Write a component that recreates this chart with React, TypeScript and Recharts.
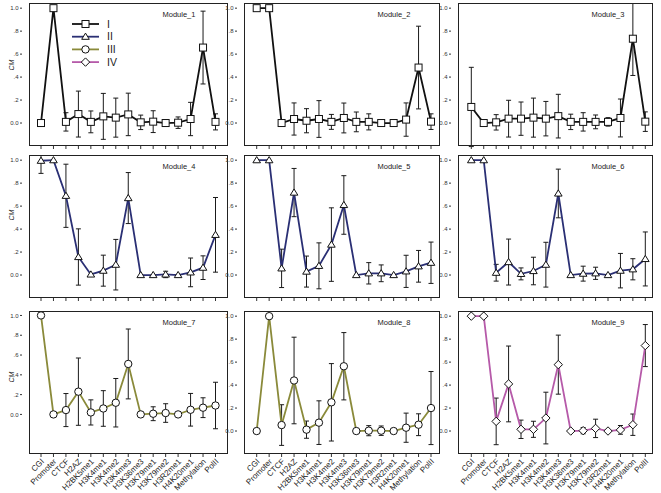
import { LineChart, Line, XAxis, YAxis, ErrorBar } from 'recharts'

const CATEGORIES = ['CGI', 'Promoter', 'CTCF', 'H2AZ', 'H2BK5me1', 'H3K4me1', 'H3K4me2', 'H3K4me3', 'H3K36me3', 'H3K79me1', 'H3K79me2', 'H3R2me1', 'H4K20me1', 'Methylation', 'PolII']
const Y_TICKS = [0, 0.2, 0.4, 0.6, 0.8, 1.0]

const M1_VALUES = [0, 1.0, 0.01, 0.078, 0.01, 0.058, 0.047, 0.075, 0.006, 0.012, 0.0, 0.003, 0.035, 0.657, 0.01]
const M1_ERRORS = [0, 0, 0.08, 0.2, 0.095, 0.2, 0.17, 0.185, 0.063, 0.095, 0, 0.05, 0.145, 0.317, 0.07]
const M2_VALUES = [1.0, 1.0, 0, 0.035, 0.02, 0.035, 0.01, 0.044, 0.01, 0.01, 0, 0, 0.03, 0.483, 0.012]
const M2_ERRORS = [0, 0, 0, 0.14, 0.105, 0.16, 0.065, 0.13, 0.086, 0.07, 0, 0, 0.145, 0.36, 0.068]
const M3_VALUES = [0.14, 0, 0.006, 0.038, 0.038, 0.047, 0.038, 0.06, 0.01, 0.01, 0.01, 0.01, 0.044, 0.734, 0.012]
const M3_ERRORS = [0.345, 0, 0.067, 0.16, 0.145, 0.17, 0.15, 0.19, 0.067, 0.08, 0.06, 0.037, 0.165, 0.32, 0.085]
const M4_VALUES = [0.995, 1.0, 0.69, 0.157, 0.005, 0.038, 0.09, 0.67, 0, 0, 0.005, 0, 0.023, 0.064, 0.35]
const M4_ERRORS = [0.11, 0, 0.275, 0.245, 0, 0.135, 0.22, 0.222, 0, 0, 0.028, 0, 0.125, 0.103, 0.325]
const M5_VALUES = [1.0, 1.0, 0.058, 0.718, 0.03, 0.08, 0.265, 0.61, 0, 0.015, 0.015, 0, 0.032, 0.076, 0.107]
const M5_ERRORS = [0, 0, 0.167, 0.21, 0.135, 0.2, 0.32, 0.255, 0, 0.093, 0.073, 0, 0.14, 0.138, 0.18]
const M6_VALUES = [1.0, 1.0, 0.02, 0.113, 0.01, 0.035, 0.09, 0.71, 0, 0.012, 0.015, 0, 0.038, 0.05, 0.14]
const M6_ERRORS = [0, 0, 0.073, 0.2, 0.052, 0.12, 0.195, 0.212, 0, 0.065, 0.053, 0, 0.15, 0.092, 0.235]
const M7_VALUES = [1.0, 0, 0.044, 0.23, 0.02, 0.06, 0.118, 0.51, 0, 0.007, 0.014, 0, 0.047, 0.068, 0.09]
const M7_ERRORS = [0, 0, 0.167, 0.34, 0.127, 0.18, 0.245, 0.353, 0, 0.07, 0.094, 0, 0.165, 0.1, 0.235]
const M8_VALUES = [0, 1.0, 0.052, 0.44, 0.012, 0.073, 0.25, 0.564, 0, 0.003, 0.003, 0, 0.029, 0.055, 0.2]
const M8_ERRORS = [0, 0, 0.177, 0.377, 0.075, 0.19, 0.337, 0.293, 0, 0.044, 0.041, 0, 0.127, 0.095, 0.318]
const M9_VALUES = [1.0, 1.0, 0.084, 0.41, 0.015, 0.015, 0.113, 0.578, 0, 0.003, 0.023, 0, 0.01, 0.055, 0.744]
const M9_ERRORS = [0, 0, 0.203, 0.33, 0.08, 0.07, 0.225, 0.257, 0, 0.027, 0.08, 0, 0.038, 0.093, 0.183]

const SERIES = [
  { name: 'I', color: '#111111', shape: 'square' },
  { name: 'II', color: '#2a2f74', shape: 'triangle' },
  { name: 'III', color: '#8a8a3a', shape: 'circle' },
  { name: 'IV', color: '#b65aa9', shape: 'diamond' },
]

const MODULES = [
  { title: 'Module_1', series: 0, values: M1_VALUES, errors: M1_ERRORS },
  { title: 'Module_2', series: 0, values: M2_VALUES, errors: M2_ERRORS },
  { title: 'Module_3', series: 0, values: M3_VALUES, errors: M3_ERRORS },
  { title: 'Module_4', series: 1, values: M4_VALUES, errors: M4_ERRORS },
  { title: 'Module_5', series: 1, values: M5_VALUES, errors: M5_ERRORS },
  { title: 'Module_6', series: 1, values: M6_VALUES, errors: M6_ERRORS },
  { title: 'Module_7', series: 2, values: M7_VALUES, errors: M7_ERRORS },
  { title: 'Module_8', series: 2, values: M8_VALUES, errors: M8_ERRORS },
  { title: 'Module_9', series: 3, values: M9_VALUES, errors: M9_ERRORS },
]

const COLS = [
  { left: 29, width: 199, pad: { left: 12, right: 12.5 } },
  { left: 244, width: 196, pad: { left: 12.7, right: 9 } },
  { left: 458, width: 195, pad: { left: 13.3, right: 7.7 } },
]
const ROWS = [3, 155, 311]
const BOX_H = 143
const Y_W = 29
const FONT = '"Liberation Sans", Arial, sans-serif'

const fmtY = (v: number) => (v === 0 ? '0.0' : v === 1 ? '1.0' : '.' + Math.round(v * 10))

function Marker({ shape, cx, cy }: any) {
  const st = { fill: '#fff', stroke: '#111', strokeWidth: 1 }
  if (shape === 'square') return <rect x={cx - 3.5} y={cy - 3.5} width={7} height={7} {...st} />
  if (shape === 'triangle') return <polygon points={`${cx},${cy - 3.6} ${cx - 3.8},${cy + 2.6} ${cx + 3.8},${cy + 2.6}`} {...st} />
  if (shape === 'circle') return <circle cx={cx} cy={cy} r={3.7} {...st} />
  return <polygon points={`${cx},${cy - 4.2} ${cx + 4.2},${cy} ${cx},${cy + 4.2} ${cx - 4.2},${cy}`} {...st} />
}

const makeDot = (shape: string) => (p: any) => <Marker key={`m-${p.index}`} shape={shape} cx={p.cx} cy={p.cy} />

function YTick({ x, y, payload }: any) {
  return (
    <g>
      <line x1={x - 9} x2={x - 7} y1={y} y2={y} stroke="#333" />
      <text x={x - 10.5} y={y} dy="0.35em" textAnchor="end" fontSize={6} fill="#333" fontFamily={FONT}>
        {fmtY(payload.value)}
      </text>
    </g>
  )
}

function XTick({ x, y, payload }: any) {
  return (
    <text transform={`translate(${x + 1.5},${y + 3}) rotate(-45)`} dy="0.35em" textAnchor="end" fontSize={8} fill="#222" fontFamily={FONT}>
      {payload.value}
    </text>
  )
}

// upper rows keep their tick marks but carry no labels
const NoLabel = () => <g />

function Panel({ mod, index }: any) {
  const col = COLS[index % 3]
  const top = ROWS[Math.floor(index / 3)]
  const bottomRow = index >= 6
  const xH = bottomRow ? 40 : 6
  const s = SERIES[mod.series]
  const domain = index === 6 ? [-0.4, 1.045] : [-0.2, 1.045]
  const data = CATEGORIES.map((name, i) => ({ name, value: mod.values[i], err: mod.errors[i] }))

  return (
    <>
      <div style={{ position: 'absolute', left: col.left - Y_W, top }}>
        <LineChart width={Y_W + col.width} height={BOX_H + xH} data={data} margin={{ top: 0, right: 0, bottom: 0, left: 0 }}>
          <XAxis
            dataKey="name"
            scale="point"
            padding={col.pad}
            interval={0}
            height={xH}
            axisLine={false}
            tickLine={{ stroke: '#333' }}
            tickSize={3}
            tickMargin={0}
            tick={bottomRow ? <XTick /> : <NoLabel />}
          />
          <YAxis
            type="number"
            domain={domain}
            allowDataOverflow
            ticks={Y_TICKS}
            interval={0}
            width={Y_W}
            axisLine={false}
            tickLine={false}
            tickSize={0}
            tickMargin={0}
            tick={<YTick />}
          />
          <Line
            type="linear"
            dataKey="value"
            stroke={s.color}
            strokeWidth={1.8}
            dot={makeDot(s.shape)}
            activeDot={false}
            isAnimationActive={false}
          >
            <ErrorBar dataKey="err" width={2.5} stroke="#1a1a1a" strokeWidth={1} />
          </Line>
        </LineChart>
      </div>
      <div
        style={{
          position: 'absolute',
          left: col.left,
          top,
          width: col.width,
          height: BOX_H,
          border: '1px solid #222',
          boxSizing: 'border-box',
          pointerEvents: 'none',
        }}
      />
    </>
  )
}

export default function App() {
  return (
    <div style={{ position: 'absolute', left: 0, top: 0, width: 661, height: 493, background: '#fff', fontFamily: FONT }}>
      {MODULES.map((m, i) => (
        <Panel key={m.title} mod={m} index={i} />
      ))}
      <svg width={661} height={493} style={{ position: 'absolute', left: 0, top: 0, pointerEvents: 'none' }}>
        {MODULES.map((m, i) => (
          <text
            key={m.title}
            x={COLS[i % 3].left + 133.5}
            y={ROWS[Math.floor(i / 3)] + 11.5}
            dy="0.35em"
            fontSize={7.5}
            fill="#222"
            fontFamily={FONT}
          >
            {m.title}
          </text>
        ))}
        {[65, 215, 377].map((y) => (
          <text
            key={y}
            transform={`translate(12,${y}) rotate(-90)`}
            dy="0.35em"
            textAnchor="middle"
            fontSize={7}
            fontStyle="italic"
            fill="#222"
            fontFamily={FONT}
          >
            CM
          </text>
        ))}
        {SERIES.map((s, i) => {
          const y = 24 + i * 12.7
          return (
            <g key={s.name}>
              <line x1={72} x2={99} y1={y} y2={y} stroke={s.color} strokeWidth={1.8} />
              <Marker shape={s.shape} cx={85.5} cy={y} />
              <text x={107} y={y} dy="0.35em" fontSize={10.5} fill="#222" fontFamily={FONT}>
                {s.name}
              </text>
            </g>
          )
        })}
      </svg>
    </div>
  )
}
